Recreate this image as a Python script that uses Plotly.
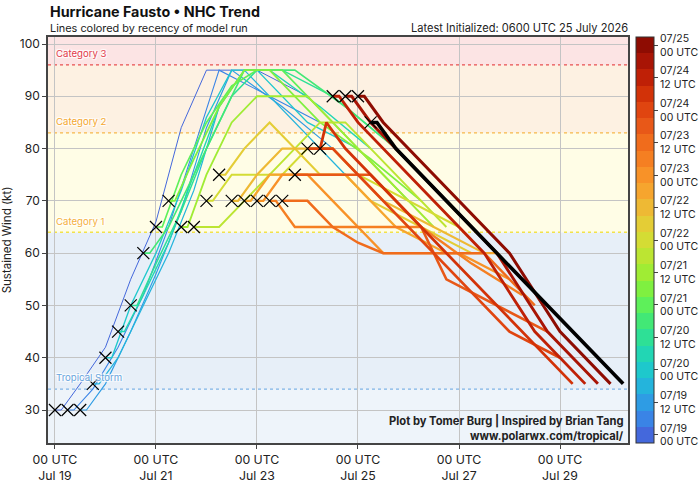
import plotly.graph_objects as go
from datetime import datetime, timedelta

# ---------------- data ----------------
base_time = datetime(2026, 7, 19, 0)
init_hours = [0, 6, 12, 18, 24, 30, 36, 42, 48, 54, 60, 66, 72, 78, 84, 90,
              96, 102, 108, 114, 120, 126, 132, 138, 144, 150]
init_winds = [30, 30, 30, 35, 40, 45, 50, 60, 65, 70, 65, 65, 70, 75, 70, 70,
              70, 70, 70, 75, 80, 80, 90, 90, 90, 85]
fcst_offsets = [0, 3, 12, 24, 36, 48, 60, 72, 96, 120]
run_winds = [
    [30, 30, 35, 42, 55, 66, 84, 95, 95, 90],
    [30, 30, 34, 42, 52, 65, 80, 95, 90, 85],
    [30, 30, 35, 45, 56, 68, 84, 95, 88, 80],
    [35, 35, 40, 50, 60, 72, 88, 95, 85, 75],
    [40, 40, 50, 60, 72, 86, 95, 95, 85, 80],
    [45, 45, 52, 62, 75, 88, 95, 95, 88, 80],
    [50, 50, 58, 68, 80, 90, 95, 95, 90, 82],
    [60, 60, 65, 75, 85, 95, 95, 95, 88, 80],
    [65, 65, 75, 85, 92, 95, 95, 90, 80, 70],
    [70, 70, 78, 88, 95, 95, 90, 85, 78, 70],
    [65, 65, 75, 85, 90, 90, 90, 85, 75, 65],
    [65, 65, 65, 70, 75, 80, 85, 85, 75, 65],
    [70, 70, 75, 75, 75, 80, 80, 75, 70, 65],
    [75, 75, 80, 85, 80, 75, 75, 70, 65, 60],
    [70, 70, 75, 80, 80, 80, 75, 70, 65, 60],
    [70, 70, 75, 75, 75, 75, 70, 65, 60, 60],
    [70, 70, 75, 75, 70, 65, 60, 60, 60, 55],
    [70, 70, 65, 65, 65, 65, 65, 65, 58, 52],
    [70, 70, 70, 65, 62, 60, 60, 60, 60, 50],
    [75, 75, 75, 75, 75, 70, 65, 55, 50, 45],
    [80, 80, 80, 75, 70, 65, 60, 55, 45, 40],
    [80, 85, 80, 75, 70, 65, 60, 55, 45, 35],
    [90, 90, 85, 80, 75, 70, 65, 60, 45, 35],
    [90, 90, 85, 80, 75, 70, 65, 60, 45, 35],
    [90, 90, 85, 80, 75, 70, 65, 60, 45, 35],
    [85, 85, 80, 75, 70, 65, 60, 55, 45, 35],
]
run_colors = [
    "#4468dc", "#3a84e6", "#2e9ce4", "#24b4dc", "#1ec8cc", "#22d6b4",
    "#2ee096", "#42e876", "#5ef05a", "#7ff040", "#a0ec34", "#bce532",
    "#d4dc34", "#e4cd36", "#eeb934", "#f6a52e", "#f89228", "#f57f22",
    "#f06c1c", "#e85818", "#e04510", "#d23208", "#bf2006", "#a81405",
    "#8e0c02", "#000000",
]
cbar_ticktext = ["07/19<br>00 UTC", "07/19<br>12 UTC", "07/20<br>00 UTC", "07/20<br>12 UTC",
                 "07/21<br>00 UTC", "07/21<br>12 UTC", "07/22<br>00 UTC", "07/22<br>12 UTC",
                 "07/23<br>00 UTC", "07/23<br>12 UTC", "07/24<br>00 UTC", "07/24<br>12 UTC",
                 "07/25<br>00 UTC"]
x_tick_hours = [0, 48, 96, 144, 192, 240]
x_tick_text = ["00 UTC<br>Jul 19", "00 UTC<br>Jul 21", "00 UTC<br>Jul 23",
               "00 UTC<br>Jul 25", "00 UTC<br>Jul 27", "00 UTC<br>Jul 29"]
cat_thresholds = [34, 64, 83, 96]
cat_names = ["Tropical Storm", "Category 1", "Category 2", "Category 3"]

FONT = "Inter, Noto Sans, sans-serif"
HALO = "1px 1px 1px #fff, -1px -1px 1px #fff, 1px -1px 1px #fff, -1px 1px 1px #fff"

def t(h):
    return base_time + timedelta(hours=h)

fig = go.Figure()

n_runs = len(init_hours)
for i in range(n_runs):
    xs = [t(init_hours[i] + o) for o in fcst_offsets]
    width = 1.0 + 2.0 * i / 24.0 if i < n_runs - 1 else 3.6
    fig.add_trace(go.Scatter(x=xs, y=run_winds[i], mode="lines",
                             line=dict(color=run_colors[i], width=width),
                             showlegend=False, hoverinfo="skip"))

# initial markers
fig.add_trace(go.Scatter(x=[t(h) for h in init_hours], y=init_winds, mode="markers",
                         marker=dict(symbol="x-thin", size=12, color="black",
                                     line=dict(color="black", width=1.2)),
                         showlegend=False, hoverinfo="skip"))

# colorbar via dummy trace
cs = []
n_c = 25
for k in range(n_c):
    cs.append([k / n_c, run_colors[k]])
    cs.append([(k + 1) / n_c, run_colors[k]])
fig.add_trace(go.Scatter(x=[t(0)], y=[0], mode="markers",
                         marker=dict(color=[0], colorscale=cs, cmin=-0.5, cmax=24.5,
                                     showscale=True, size=1, opacity=0,
                                     colorbar=dict(x=1.0138, xanchor="left", xref="paper",
                                                   xpad=0, ypad=0,
                                                   y=0.5, yanchor="middle", len=1.0,
                                                   thickness=18, outlinecolor="#333",
                                                   outlinewidth=1,
                                                   tickvals=list(range(0, 25, 2)),
                                                   ticktext=cbar_ticktext,
                                                   ticks="outside", ticklen=4,
                                                   tickfont=dict(family=FONT, size=10.5, color="#222"))),
                         showlegend=False, hoverinfo="skip"))

# background bands
band_bounds = [0, 34, 64, 83, 96, 120]
band_colors = ["#eef4fa", "#e7eff8", "#fffde6", "#fdf1e2", "#fce4e4"]
for k in range(len(band_colors)):
    fig.add_shape(type="rect", xref="paper", yref="y", x0=0, x1=1,
                  y0=band_bounds[k], y1=band_bounds[k + 1],
                  fillcolor=band_colors[k], line=dict(width=0), layer="below")

line_cols = ["#80b4e6", "#f2e24a", "#f6b84a", "#e85050"]
text_cols = ["#6aa6de", "#f5b040", "#f5a830", "#e23c4c"]
label_pos = [36.2, 66.1, 85.1, 98.1]
for k in range(4):
    fig.add_shape(type="line", xref="paper", yref="y", x0=0, x1=1,
                  y0=cat_thresholds[k], y1=cat_thresholds[k],
                  line=dict(color=line_cols[k], width=1.3, dash="dot"), layer="below")
    fig.add_annotation(xref="paper", yref="y", x=0.011, y=label_pos[k], text=cat_names[k],
                       showarrow=False, xanchor="left", yanchor="middle",
                       font=dict(family=FONT, size=9.6, color=text_cols[k], shadow=HALO))

# titles
fig.add_annotation(xref="paper", yref="paper", x=0.0, y=1.062, text="<b>Hurricane Fausto • NHC Trend</b>",
                   showarrow=False, xanchor="left", yanchor="middle",
                   font=dict(family=FONT, size=14.3, color="#111"))
fig.add_annotation(xref="paper", yref="paper", x=0.0, y=1.022, text="Lines colored by recency of model run",
                   showarrow=False, xanchor="left", yanchor="middle",
                   font=dict(family=FONT, size=10.9, color="#222"))
fig.add_annotation(xref="paper", yref="paper", x=1.003, y=1.022,
                   text="Latest Initialized: 0600 UTC 25 July 2026",
                   showarrow=False, xanchor="right", yanchor="middle",
                   font=dict(family=FONT, size=11.1, color="#222"))
fig.add_annotation(xref="paper", yref="paper", x=0.997, y=0.054,
                   text="<b>Plot by Tomer Burg | Inspired by Brian Tang</b>",
                   showarrow=False, xanchor="right", yanchor="middle",
                   font=dict(family=FONT, size=11.2, color="#222"))
fig.add_annotation(xref="paper", yref="paper", x=0.997, y=0.017,
                   text="<b>www.polarwx.com/tropical/</b>",
                   showarrow=False, xanchor="right", yanchor="middle",
                   font=dict(family=FONT, size=11.2, color="#222"))

fig.update_layout(
    width=700, height=482,
    margin=dict(l=48, r=72, t=37, b=39, autoexpand=False),
    paper_bgcolor="white", plot_bgcolor="white",
    font=dict(family=FONT, size=12, color="#222"),
    showlegend=False,
)
fig.update_xaxes(type="date", range=[t(-3.3), t(272.3)],
                 tickvals=[t(h) for h in x_tick_hours], ticktext=x_tick_text,
                 showgrid=True, gridcolor="#c4c4c4", gridwidth=1,
                 showline=True, linecolor="#444", linewidth=1.5, mirror=True,
                 ticks="outside", ticklen=4, tickcolor="#444",
                 tickfont=dict(family=FONT, size=12.3, color="#222"), zeroline=False)
fig.update_yaxes(range=[23.69, 101.34], tickvals=[30, 40, 50, 60, 70, 80, 90, 100],
                 showgrid=True, gridcolor="#c4c4c4", gridwidth=1,
                 showline=True, linecolor="#444", linewidth=1.5, mirror=True,
                 ticks="outside", ticklen=4, tickcolor="#444",
                 title=dict(text="Sustained Wind (kt)", font=dict(family=FONT, size=11.5), standoff=6),
                 tickfont=dict(family=FONT, size=12, color="#222"), zeroline=False)

fig.write_html("out.html")
